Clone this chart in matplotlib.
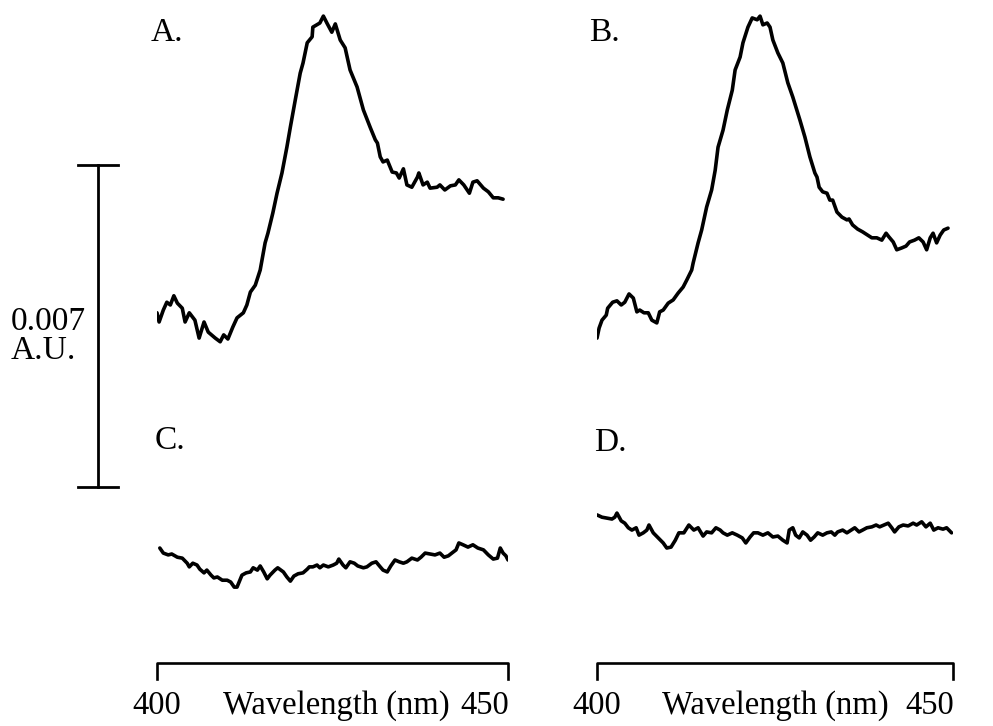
import matplotlib
matplotlib.use("Agg")
import matplotlib.pyplot as plt
from matplotlib.transforms import blended_transform_factory

# ---------------- data (wavelength in nm, absorbance in mAU, relative) ----------------
wl_A = [400.0, 400.3, 400.9, 401.4, 401.9, 402.4, 402.9, 403.6, 404.0, 404.6, 405.4, 406.0,
        406.7, 407.3, 408.3, 409.0, 409.5, 410.1, 410.8, 411.4, 412.3, 412.8, 413.3, 414.0,
        414.7, 415.4, 415.8, 416.5, 417.1, 417.8, 418.5, 419.0, 419.7, 420.4, 420.8, 421.4,
        422.1, 422.2, 423.2, 423.7, 424.2, 424.9, 425.4, 426.1, 426.8, 427.5, 428.5, 429.4,
        430.4, 431.1, 431.4, 431.8, 432.2, 432.8, 433.5, 434.1, 434.5, 435.1, 435.6, 436.3,
        437.1, 437.3, 437.9, 438.5, 438.9, 439.9, 440.3, 441.0, 441.8, 442.5, 443.0, 443.7,
        444.5, 445.0, 445.6, 446.5, 447.2, 447.9, 448.6, 449.3]
abs_A = [0.70, 0.50, 0.76, 0.93, 0.87, 1.07, 0.91, 0.80, 0.50, 0.70, 0.54, 0.15,
         0.50, 0.28, 0.15, 0.07, 0.22, 0.13, 0.39, 0.59, 0.70, 0.87, 1.15, 1.30,
         1.63, 2.22, 2.43, 2.87, 3.30, 3.74, 4.30, 4.74, 5.33, 5.91, 6.13, 6.57,
         6.70, 6.91, 7.00, 7.15, 7.00, 6.80, 6.98, 6.63, 6.46, 5.98, 5.61, 5.11,
         4.72, 4.46, 4.39, 4.09, 3.98, 4.02, 3.76, 3.74, 3.63, 3.83, 3.48, 3.43,
         3.65, 3.74, 3.48, 3.54, 3.41, 3.43, 3.48, 3.37, 3.46, 3.48, 3.59, 3.48,
         3.30, 3.54, 3.57, 3.41, 3.33, 3.20, 3.20, 3.17]

wl_B = [400.0, 400.3, 400.7, 401.3, 401.5, 402.2, 402.8, 403.4, 403.9, 404.5, 405.1, 405.6,
        406.0, 406.6, 407.2, 407.7, 408.4, 408.8, 409.3, 410.0, 410.7, 411.4, 412.1, 412.6,
        413.3, 413.5, 414.2, 414.7, 415.4, 416.1, 416.6, 417.0, 417.7, 418.3, 419.0, 419.4,
        420.1, 420.5, 421.2, 421.8, 422.5, 422.9, 423.3, 423.9, 424.3, 424.7, 425.4, 426.1,
        426.8, 427.5, 428.5, 429.2, 429.9, 430.6, 430.9, 431.2, 431.7, 432.3, 432.7, 433.1,
        433.7, 434.4, 435.1, 435.4, 435.9, 436.6, 437.3, 438.0, 438.6, 439.3, 440.0, 440.6,
        441.0, 441.6, 442.1, 442.8, 443.4, 443.9, 444.6, 445.2, 445.8, 446.3, 446.8, 447.2,
        447.7, 448.2, 448.7, 449.3]
abs_B = [0.15, 0.37, 0.54, 0.65, 0.80, 0.93, 0.96, 0.87, 0.93, 1.11, 1.02, 0.72,
         0.76, 0.70, 0.70, 0.54, 0.48, 0.72, 0.76, 0.91, 0.98, 1.13, 1.26, 1.41,
         1.63, 1.78, 2.22, 2.50, 3.00, 3.37, 3.80, 4.30, 4.67, 5.11, 5.54, 5.98,
         6.26, 6.57, 6.91, 7.11, 7.07, 7.15, 6.96, 7.00, 6.91, 6.63, 6.35, 6.13,
         5.70, 5.39, 4.89, 4.52, 4.09, 3.74, 3.65, 3.43, 3.33, 3.30, 3.15, 3.15,
         2.89, 2.78, 2.72, 2.74, 2.61, 2.52, 2.46, 2.39, 2.33, 2.33, 2.28, 2.43,
         2.35, 2.24, 2.07, 2.11, 2.15, 2.24, 2.28, 2.33, 2.24, 2.07, 2.33, 2.43,
         2.22, 2.39, 2.50, 2.54]

wl_C = [400.4, 400.9, 401.6, 402.1, 402.9, 403.6, 404.3, 404.6, 405.1, 405.7, 406.1, 406.7,
        407.1, 407.7, 408.1, 408.6, 409.3, 410.0, 410.5, 411.0, 411.4, 412.1, 412.7, 413.3,
        413.7, 414.3, 414.7, 415.2, 415.7, 416.1, 416.8, 417.2, 418.0, 418.5, 419.0, 419.5,
        420.1, 420.8, 421.4, 421.7, 422.2, 422.8, 423.2, 423.7, 424.4, 425.1, 425.6, 425.9,
        426.5, 426.9, 427.5, 428.1, 428.6, 429.4, 429.9, 430.6, 431.2, 431.8, 432.2, 432.8,
        433.3, 433.9, 434.5, 435.1, 435.6, 436.3, 437.1, 437.6, 438.2, 438.9, 439.6, 440.3,
        440.9, 441.5, 442.0, 442.6, 443.0, 443.6, 444.3, 445.0, 445.7, 446.5, 447.2, 447.9,
        448.5, 448.9, 449.3, 449.7, 450.0]
abs_C = [1.13, 1.02, 0.98, 1.00, 0.93, 0.91, 0.80, 0.72, 0.80, 0.76, 0.67, 0.59,
         0.65, 0.54, 0.48, 0.50, 0.43, 0.43, 0.39, 0.28, 0.28, 0.54, 0.59, 0.61,
         0.70, 0.65, 0.74, 0.61, 0.46, 0.54, 0.65, 0.70, 0.61, 0.50, 0.41, 0.52,
         0.57, 0.59, 0.67, 0.72, 0.72, 0.76, 0.70, 0.76, 0.72, 0.76, 0.80, 0.89,
         0.76, 0.70, 0.83, 0.80, 0.74, 0.70, 0.72, 0.80, 0.83, 0.72, 0.65, 0.61,
         0.74, 0.87, 0.83, 0.80, 0.83, 0.91, 0.87, 0.93, 1.02, 1.00, 0.98, 1.02,
         0.93, 0.96, 1.02, 1.09, 1.24, 1.20, 1.15, 1.20, 1.13, 1.09, 0.98, 0.89,
         0.91, 1.13, 1.02, 0.96, 0.87]

wl_D = [400.0, 400.7, 401.4, 402.1, 402.5, 402.8, 403.4, 403.9, 404.4, 404.9, 405.5, 405.9,
        406.5, 407.0, 407.3, 407.9, 408.6, 409.3, 409.8, 410.4, 411.0, 411.5, 412.2, 412.9,
        413.6, 414.2, 414.9, 415.4, 416.1, 416.7, 417.3, 417.7, 418.3, 419.0, 419.7, 420.4,
        420.9, 421.5, 422.0, 422.6, 423.3, 424.0, 424.7, 425.4, 426.1, 426.7, 427.0, 427.5,
        427.9, 428.4, 428.9, 429.5, 430.0, 430.5, 431.0, 431.7, 432.3, 432.9, 433.4, 433.8,
        434.5, 435.1, 435.7, 436.2, 436.8, 437.3, 437.9, 438.6, 439.2, 439.7, 440.3, 440.9,
        441.4, 441.8, 442.4, 443.0, 443.7, 444.4, 444.9, 445.6, 446.2, 446.8, 447.3, 447.9,
        448.6, 449.1, 449.8]
abs_D = [1.85, 1.80, 1.78, 1.76, 1.80, 1.89, 1.72, 1.67, 1.57, 1.52, 1.57, 1.41,
         1.46, 1.52, 1.63, 1.46, 1.35, 1.24, 1.13, 1.15, 1.30, 1.46, 1.46, 1.63,
         1.52, 1.57, 1.39, 1.48, 1.46, 1.57, 1.52, 1.46, 1.41, 1.46, 1.41, 1.35,
         1.24, 1.37, 1.46, 1.46, 1.41, 1.46, 1.37, 1.39, 1.30, 1.24, 1.52, 1.57,
         1.41, 1.35, 1.48, 1.41, 1.30, 1.37, 1.46, 1.41, 1.46, 1.48, 1.41, 1.48,
         1.52, 1.46, 1.52, 1.57, 1.48, 1.52, 1.57, 1.59, 1.63, 1.59, 1.63, 1.67,
         1.57, 1.48, 1.59, 1.63, 1.61, 1.67, 1.63, 1.70, 1.59, 1.67, 1.52, 1.57,
         1.54, 1.57, 1.46]

panel_labels = ["A.", "B.", "C.", "D."]
scale_bar_mau = 7.0
scale_bar_text = "0.007\nA.U."
x_range = [400, 450]
x_tick_labels = ["400", "450"]
x_title = "Wavelength (nm)"

# ---------------- layout ----------------
W, H = 993, 726
plt.rcParams["font.family"] = ["Liberation Serif", "DejaVu Serif"]
fig = plt.figure(figsize=(W / 100, H / 100), dpi=100)
fig.patch.set_facecolor("white")


def px_axes(x0, x1, y_top, y_bot):
    return fig.add_axes([x0 / W, 1 - y_bot / H, (x1 - x0) / W, (y_bot - y_top) / H])


cols = [(157, 508), (597, 953)]
rows = [((0, 345), (0, 7.5)), ((416, 600), (0, 4.0))]
series = [(wl_A, abs_A), (wl_B, abs_B), (wl_C, abs_C), (wl_D, abs_D)]
label_pos = [(151, 33), (589, 33), (155, 441), (594, 443)]

axes = []
for i, (wl, ab) in enumerate(series):
    r, c = divmod(i, 2)
    (yt, yb), ylim = rows[r]
    ax = px_axes(cols[c][0], cols[c][1], yt, yb)
    ax.set_xlim(*x_range)
    ax.set_ylim(*ylim)
    ax.plot(wl, ab, color="black", lw=2.6, solid_joinstyle="round", solid_capstyle="round")
    ax.axis("off")
    axes.append(ax)
    lx, ly = label_pos[i]
    fig.text(lx / W, 1 - ly / H, panel_labels[i], fontsize=24, ha="left", va="center")

# wavelength brackets under the bottom row
title_x = [425.5, 425.1]
for k, ax in enumerate(axes[2:]):
    tr = blended_transform_factory(ax.transData, fig.transFigure)
    yb_top = 1 - 663 / H
    yb_bot = 1 - 679 / H
    ax.plot([x_range[0], x_range[0], x_range[1], x_range[1]],
            [yb_bot, yb_top, yb_top, yb_bot], color="black", lw=1.9,
            transform=tr, clip_on=False)
    ty = 1 - 706 / H
    ax.text(x_range[0], ty, x_tick_labels[0], transform=tr, ha="center", va="center", fontsize=23.5)
    ax.text(x_range[1] + 0.2, ty, x_tick_labels[1], transform=tr, ha="right", va="center", fontsize=23.5)
    ax.text(title_x[k], ty, x_title, transform=tr, ha="center", va="center", fontsize=23.5)

# absorbance scale bar
sax = px_axes(78, 118, 165, 487)
sax.set_xlim(0, 1)
sax.set_ylim(0, scale_bar_mau)
sax.plot([0.5, 0.5], [0, scale_bar_mau], color="black", lw=2.0, clip_on=False)
sax.plot([0, 1], [0, 0], color="black", lw=2.0, clip_on=False)
sax.plot([0, 1], [scale_bar_mau, scale_bar_mau], color="black", lw=2.0, clip_on=False)
sax.axis("off")
fig.text(11 / W, 1 - 336 / H, scale_bar_text, fontsize=24, ha="left", va="center",
         linespacing=0.92)

fig.savefig("out.png", dpi=100, facecolor="white")
